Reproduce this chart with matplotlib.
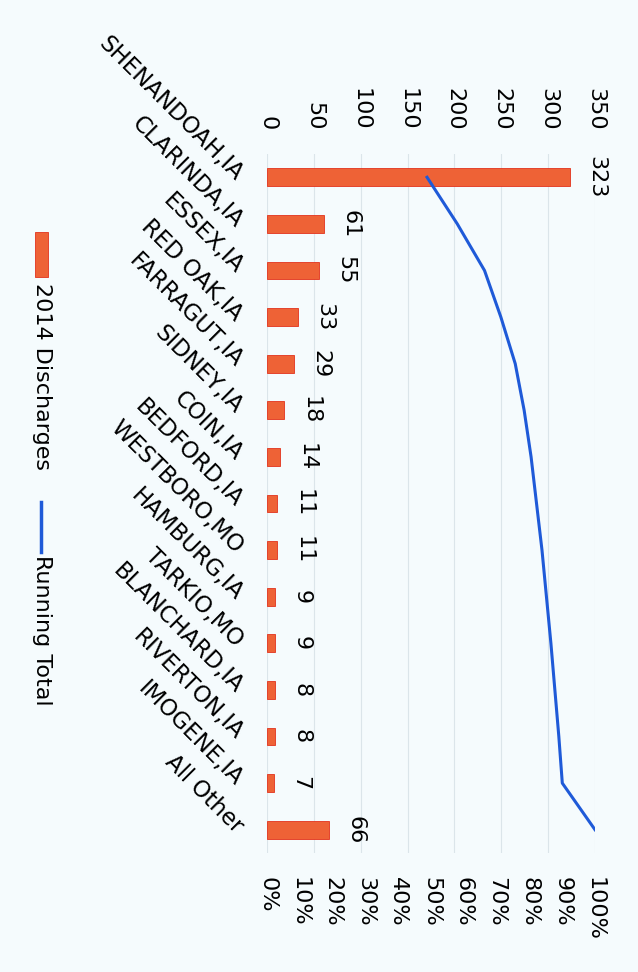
import matplotlib
matplotlib.use("Agg")
import matplotlib.pyplot as plt
import numpy as np
from matplotlib.patches import Rectangle
from matplotlib.lines import Line2D

categories = ["SHENANDOAH,IA", "CLARINDA,IA", "ESSEX,IA", "RED OAK,IA", "FARRAGUT,IA",
              "SIDNEY,IA", "COIN,IA", "BEDFORD,IA", "WESTBORO,MO", "HAMBURG,IA",
              "TARKIO,MO", "BLANCHARD,IA", "RIVERTON,IA", "IMOGENE,IA", "All Other"]
discharges = [323, 61, 55, 33, 29, 18, 14, 11, 11, 9, 9, 8, 8, 7, 66]
value_ticks = [0, 50, 100, 150, 200, 250, 300, 350]
pct_ticks = [0, 0.1, 0.2, 0.3, 0.4, 0.5, 0.6, 0.7, 0.8, 0.9, 1.0]

running_total = np.cumsum(discharges) / np.sum(discharges)

bg = "#f5fbfd"
bar_color = "#ee6236"
bar_edge = "#e2321c"
line_color = "#1f5ad8"
fs = 16

plt.rcParams['font.family'] = ['DejaVu Sans']
fig = plt.figure(figsize=(6.38, 9.72), dpi=100, facecolor=bg)
ax = fig.add_axes([0.4185, 0.1224, 0.5141, 0.7192])
ax.set_facecolor(bg)
ax2 = ax.twiny()

y = np.arange(len(categories))
ax.barh(y, discharges, height=0.38, color=bar_color, edgecolor=bar_edge, linewidth=0.6, zorder=2)
ax.set_xlim(0, 350)
ax.set_ylim(len(categories) - 0.5, -0.5)
ax.xaxis.tick_top()
ax.set_xticks(value_ticks)
ax.set_xticklabels([str(v) for v in value_ticks], rotation=-90, fontsize=fs, va='bottom', ha='center')
ax.tick_params(axis='x', length=0, pad=17, top=True, labeltop=True, bottom=False, labelbottom=False)
ax.set_yticks(y)
ax.set_yticklabels(categories, rotation=-45, rotation_mode='anchor', ha='right', va='center', fontsize=16.5)
ax.tick_params(axis='y', length=0, pad=20)
ax.grid(axis='x', color='#dbe5ea', linewidth=0.8, zorder=0)
for s in ax.spines.values():
    s.set_visible(False)

for yi, v in zip(y, discharges):
    ax.annotate(str(v), (v, yi), xytext=(12, 0), textcoords='offset points',
                rotation=-90, va='center', ha='left', fontsize=fs)

ax2.set_xlim(0, 1)
ax2.plot(running_total, y, color=line_color, linewidth=2.2, zorder=3)
ax2.xaxis.tick_bottom()
ax2.set_xticks(pct_ticks)
ax2.set_xticklabels([f"{int(round(p*100))}%" for p in pct_ticks], rotation=-90, fontsize=fs, va='top', ha='center')
ax2.tick_params(axis='x', length=0, pad=17, top=False, labeltop=False, bottom=True, labelbottom=True)
for s in ax2.spines.values():
    s.set_visible(False)

# Legend (rotated, drawn manually)
W, H = 638, 972
def fx(px):
    return px / W
def fy(py):
    return 1 - py / H
fig.patches.append(Rectangle((fx(35), fy(277)), fx(13), 45 / H, transform=fig.transFigure,
                             facecolor=bar_color, edgecolor=bar_edge, linewidth=0.6))
fig.text(fx(42), fy(283), "2014 Discharges", rotation=-90, fontsize=fs, ha='center', va='top')
fig.lines.append(Line2D([fx(41), fx(41)], [fy(502), fy(552)], transform=fig.transFigure,
                        color=line_color, linewidth=2.5))
fig.text(fx(42), fy(555), "Running Total", rotation=-90, fontsize=fs, ha='center', va='top')

fig.savefig("out.png", dpi=100, facecolor=bg)
